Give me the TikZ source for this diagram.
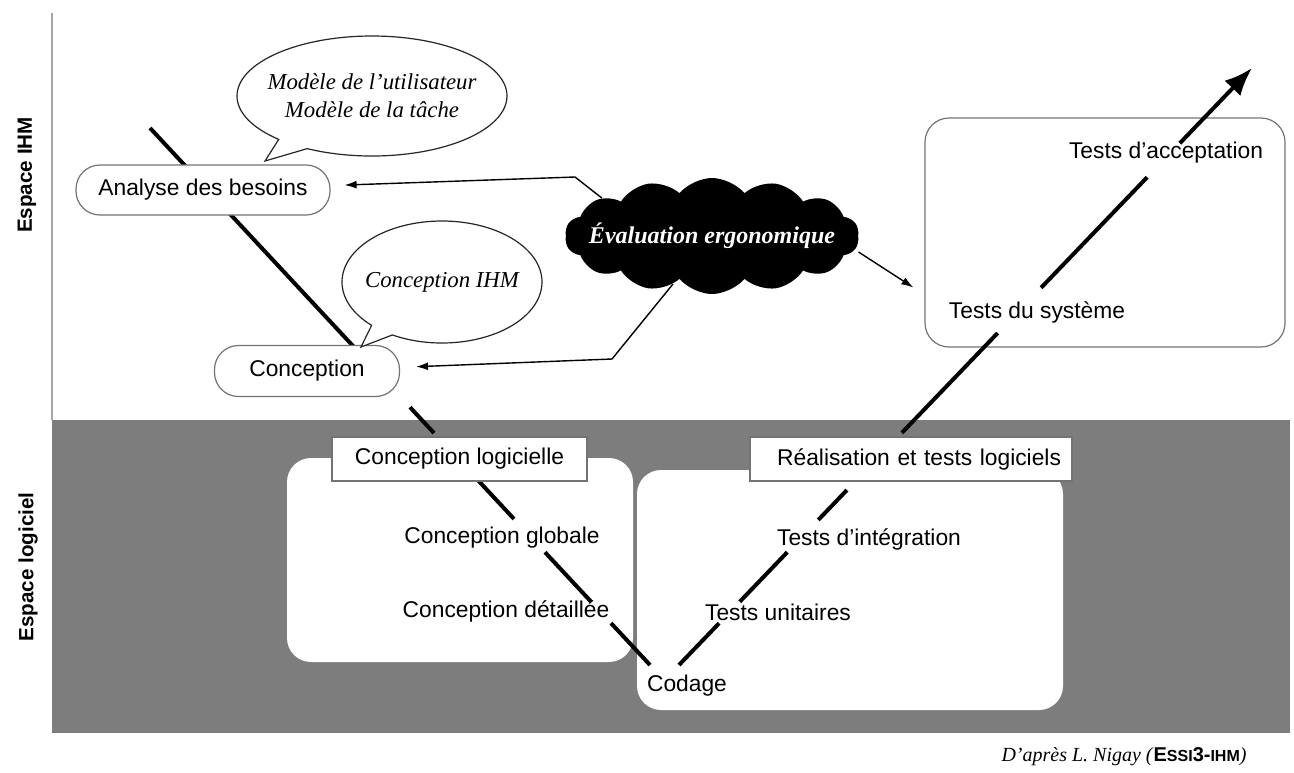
\documentclass[tikz,border=0pt]{standalone}
\usepackage{fontspec}
\setmainfont{Liberation Serif}
\setsansfont{Liberation Sans}
\usepackage{tikz}
\usetikzlibrary{calc,shapes.geometric,shapes.symbols,shapes.callouts,arrows.meta}
\newcommand{\pxsize}{0.5pt}
\definecolor{logiciel}{gray}{0.49}
\definecolor{trait}{gray}{0.45}
\tikzset{
	etape/.style={font=\sffamily\fontsize{11.4}{13}\selectfont, inner sep=1pt},
	boite/.style={etape, draw=trait, fill=white, line width=0.6pt},
	bulle/.style={ellipse callout, draw=black!85, line width=0.6pt, fill=white, align=center, inner sep=0pt, font=\itshape\fontsize{11.4}{14}\selectfont},
	vtrait/.style={line width=2pt},
	renvoi/.style={line width=0.7pt, -{Latex[length=6pt,width=4pt]}},
	espace/.style={font=\sffamily\bfseries\fontsize{10.3}{12}\selectfont, rotate=90},
}

\begin{document}
\begin{tikzpicture}[x=\pxsize,y=-\pxsize]
	\useasboundingbox (0,0) rectangle (1294,772);
	\fill[logiciel] (52,420) rectangle (1290,733);
	\draw[gray!70, line width=0.8pt] (52,13) -- (52,420);
	\node[espace] (eihm) at (27,175) {Espace IHM};
	\node[espace] (elog) at (28,567) {Espace logiciel};
	\fill[white, rounded corners=12pt] (287,458) rectangle (633,662);
	\fill[white, rounded corners=12pt] (637,470) rectangle (1063,710);
	\node[draw=trait, line width=0.6pt, rounded corners=12pt, minimum width=180pt, minimum height=114.5pt] (tests) at (1105,232.5) {};

	\coordinate (vA) at (150,128);
	\coordinate (vB) at (650,665);
	\coordinate (vC) at (679,665);
	\coordinate (vD) at (1252,68);
	\foreach \s/\e in {0/.408, .52/.568, .652/.728, .79/.883, .922/1}
		\draw[vtrait] ($(vA)!\s!(vB)$) -- ($(vA)!\e!(vB)$);
	\foreach \s/\e in {0/.07, .106/.189, .243/.293, .389/.556, .632/.817}
		\draw[vtrait] ($(vC)!\s!(vD)$) -- ($(vC)!\e!(vD)$);
	\draw[vtrait, -{Latex[length=14pt,width=11pt]}] ($(vC)!.874!(vD)$) -- (vD);

	\node[boite, rounded corners=12pt, minimum width=127pt, minimum height=25pt] (besoins) at (203,190) {Analyse des besoins};
	\node[boite, rounded corners=12pt, minimum width=92.5pt, minimum height=25.5pt] (concept) at (307,371) {Conception};
	\node[boite, minimum width=127.5pt, minimum height=22pt] (clog) at (459.5,459) {Conception logicielle};
	\node[boite, text width=150pt, align=right, inner xsep=5.5pt, minimum height=22pt] (rlog) at (911,459) {Réalisation et tests logiciels};

	\node[etape] (cglob) at (502,538) {Conception globale};
	\node[etape] (cdet) at (506,611) {Conception détaillée};
	\node[etape] (codage) at (687,686) {Codage};
	\node[etape] (tunit) at (778,612) {Tests unitaires};
	\node[etape] (tinteg) at (869,539) {Tests d'intégration};
	\node[etape] (tsys) at (1037,312) {Tests du système};
	\node[etape] (taccept) at (1166,153) {Tests d'acceptation};

	\coordinate (pointeA) at (265,161);
	\coordinate (pointeB) at (361,347);
	\node[bulle, inner xsep=-9pt, callout absolute pointer={(pointeA)}, minimum width=135pt, minimum height=60pt] (modeles) at (372,96) {Modèle de l'utilisateur\\Modèle de la tâche};
	\node[bulle, inner xsep=-5pt, callout absolute pointer={(pointeB)}, minimum width=100pt, minimum height=61pt] (cihm) at (442,282) {Conception IHM};

	\node[cloud, cloud puffs=14, cloud puff arc=100, cloud ignores aspect, fill=black, text=white, inner sep=0pt, minimum width=147pt, minimum height=58pt, font=\bfseries\itshape\fontsize{12}{14}\selectfont] (evalu) at (712,236) {\makebox[0pt]{Évaluation ergonomique}};
	\coordinate (coudeA) at (575,177);
	\coordinate (coudeC) at (612,359);
	\draw[renvoi, shorten >=7pt] (evalu.161) -- (coudeA) -- (besoins);
	\draw[renvoi, shorten >=8pt] (evalu) -- (coudeC) -- (concept);
	\draw[renvoi] ([yshift=-8pt]evalu.east) -- ([shift={(-5.5pt,-27.5pt)}]tests.west);

	\node (source) at (1124,757) {\itshape D'après L. Nigay (\textup{\sffamily\bfseries E{\footnotesize SSI}3-{\footnotesize IHM}})};
\end{tikzpicture}
\end{document}
